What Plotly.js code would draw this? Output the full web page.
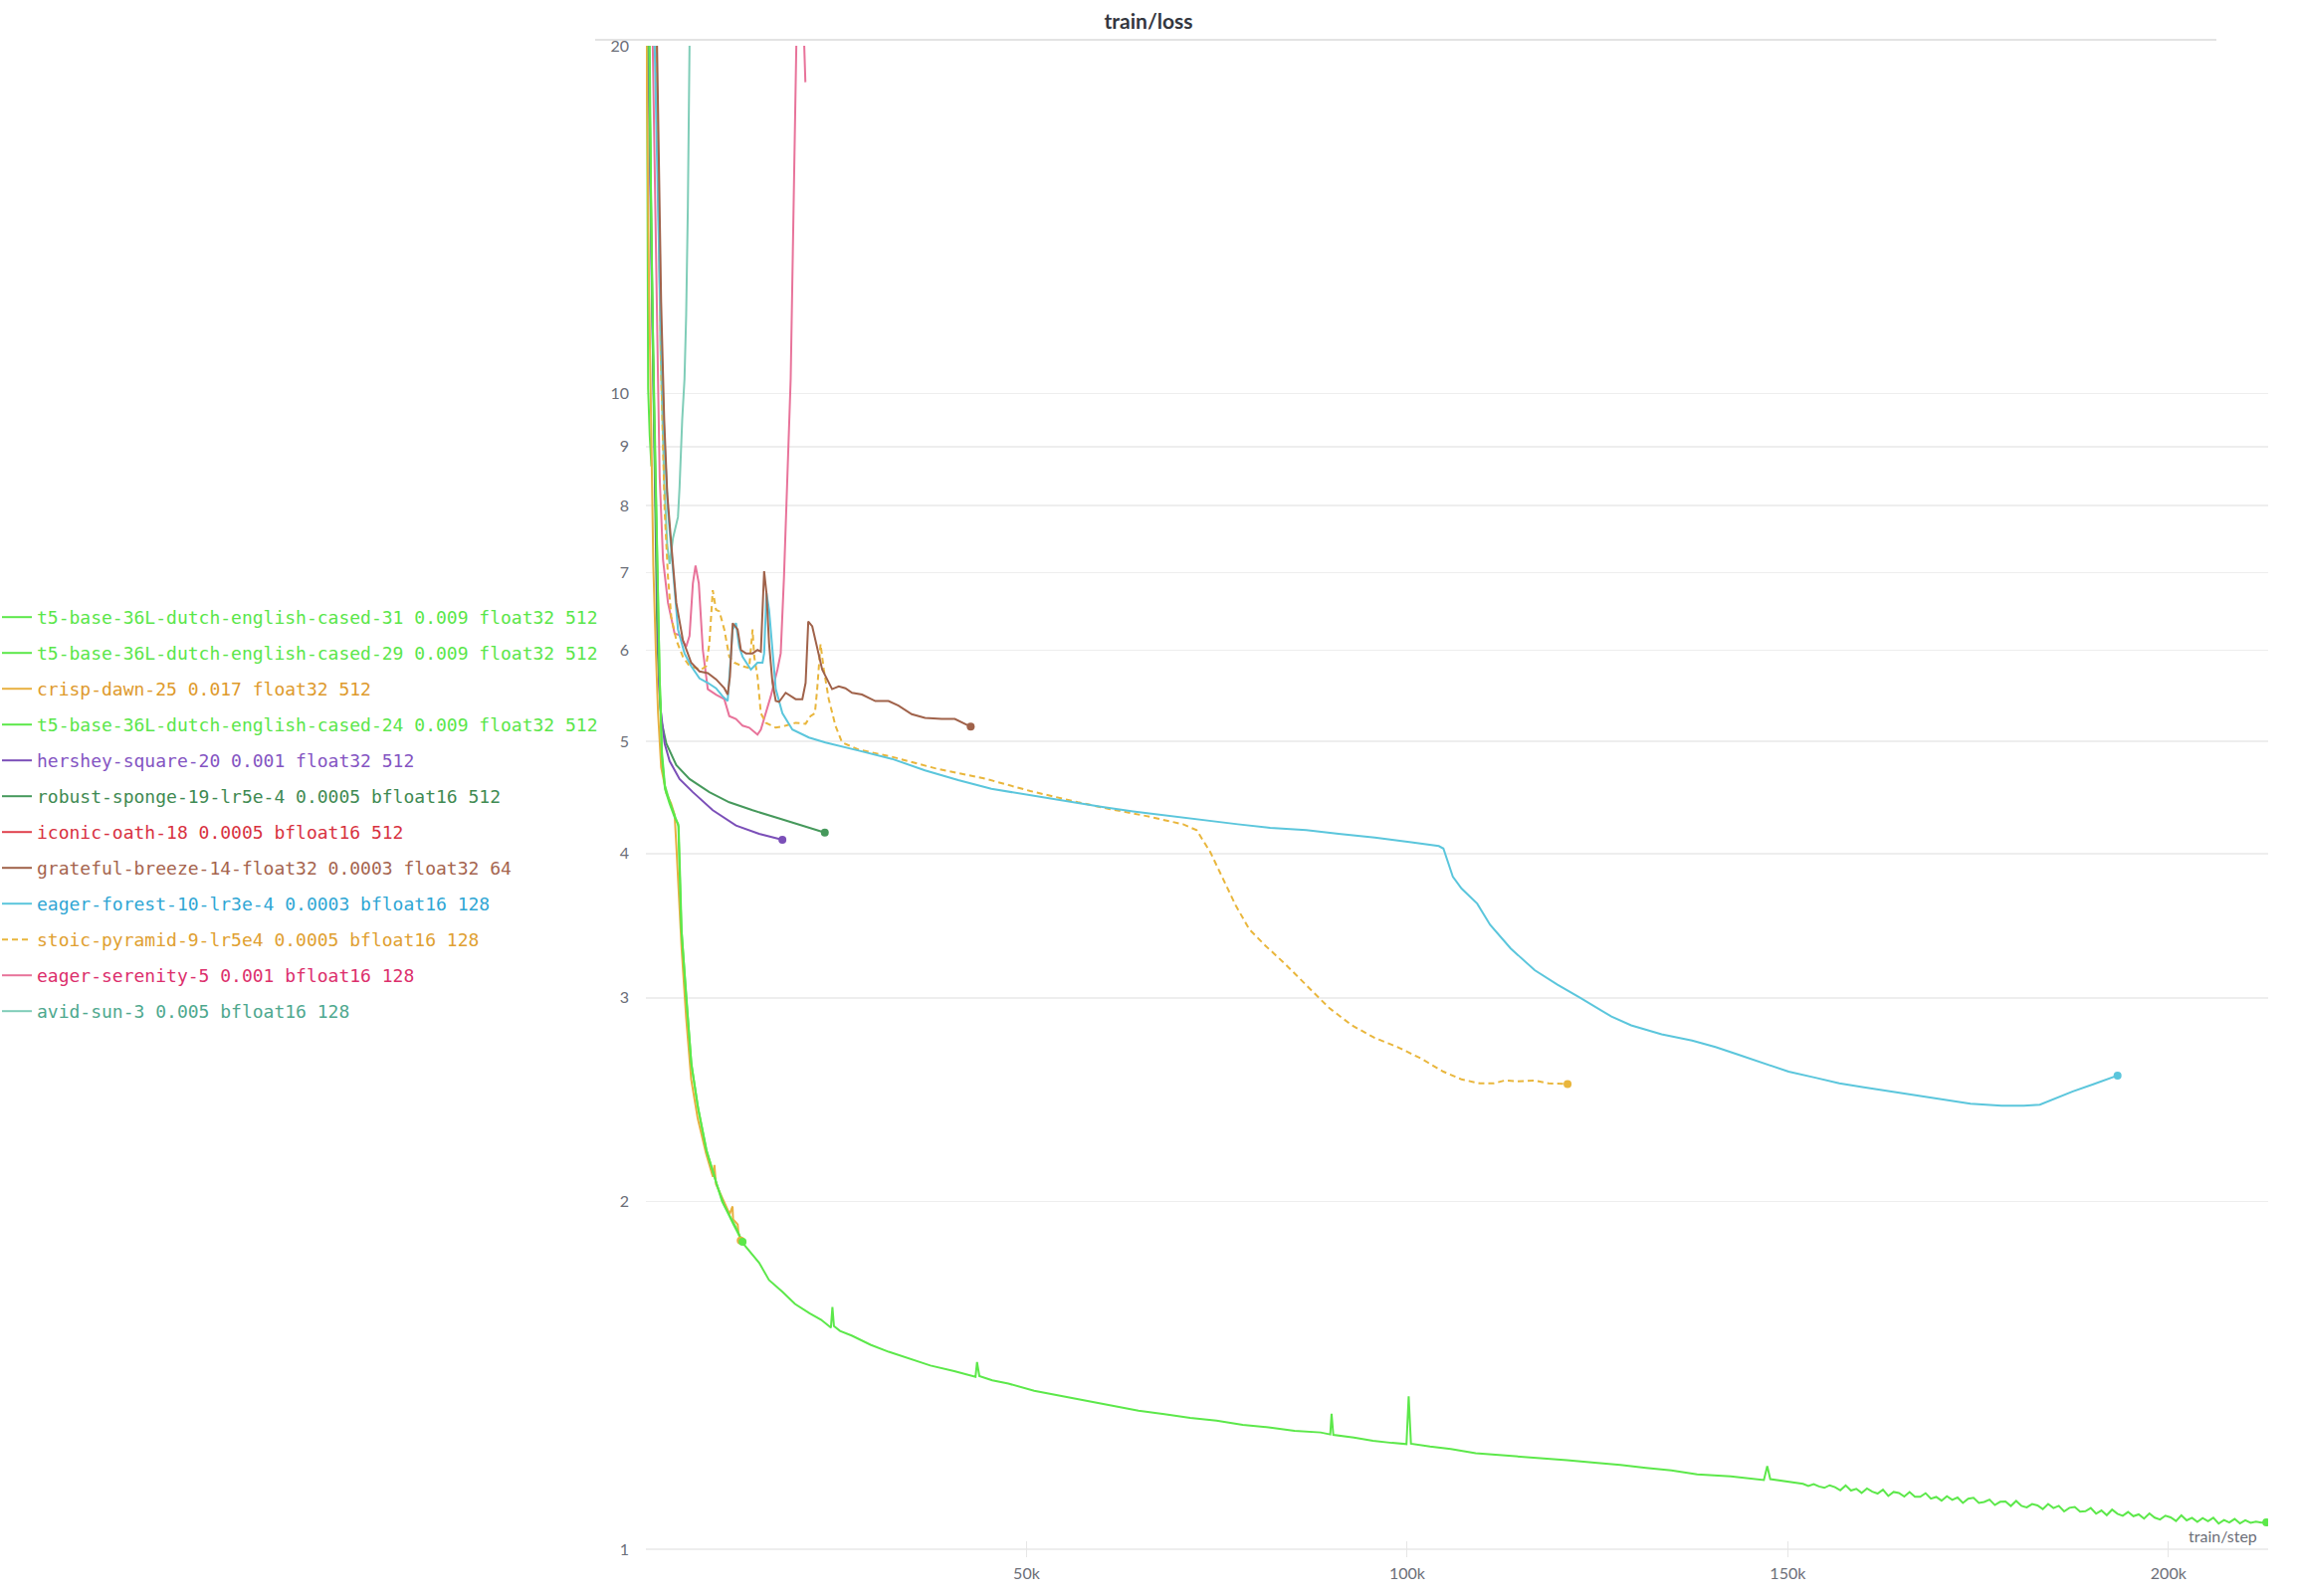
<!DOCTYPE html>
<html>
<head>
<meta charset="utf-8">
<script src="https://cdn.plot.ly/plotly-3.0.1.min.js"></script>
<style>html,body{margin:0;padding:0;background:#fff;}#chart{width:2308px;height:1604px;}</style>
</head>
<body>
<div id="chart"></div>
<script>
// ---------------- DATA ----------------
const runNames = [
  "t5-base-36L-dutch-english-cased-31 0.009 float32 512",
  "t5-base-36L-dutch-english-cased-29 0.009 float32 512",
  "crisp-dawn-25 0.017 float32 512",
  "t5-base-36L-dutch-english-cased-24 0.009 float32 512",
  "hershey-square-20 0.001 float32 512",
  "robust-sponge-19-lr5e-4 0.0005 bfloat16 512",
  "iconic-oath-18 0.0005 bfloat16 512",
  "grateful-breeze-14-float32 0.0003 float32 64",
  "eager-forest-10-lr3e-4 0.0003 bfloat16 128",
  "stoic-pyramid-9-lr5e4 0.0005 bfloat16 128",
  "eager-serenity-5 0.001 bfloat16 128",
  "avid-sun-3 0.005 bfloat16 128"
];

const xTickValues = [50000, 100000, 150000, 200000];
const xTickLabels = ["50k", "100k", "150k", "200k"];
const yTickValues = [1, 2, 3, 4, 5, 6, 7, 8, 9, 10, 20];
const yTickLabels = ["1", "2", "3", "4", "5", "6", "7", "8", "9", "10", "20"];

// t5-base-36L-dutch-english-cased-31
const step31 = [0, 700, 1100, 1500, 1800, 2100, 2500, 3100, 3770, 4250, 4400, 4650, 5300, 5950, 6800, 7900, 9200, 10000, 11800, 12740, 14870, 16170, 17930, 19590, 21500, 23000, 24300, 24500, 24700, 25500, 27100, 29500, 31890, 34500, 37370, 40500, 43300, 43500, 43800, 45500, 47610, 51000, 54440, 58000, 61290, 64700, 68120, 71500, 74960, 78400, 81790, 85200, 88630, 89900, 90070, 90300, 93000, 95500, 98000, 99910, 100200, 100500, 103000, 105730, 109000, 113240, 117890, 121000, 124620, 128000, 131370, 134700, 138090, 142500, 146860, 147300, 147700, 151570,
  152000, 152700, 153400, 154100, 154800, 155500, 156200, 156900, 157600, 158300, 159000, 159700, 160400, 161100, 161800, 162500, 163200, 163900, 164600, 165300, 166000, 166700, 167400, 168100, 168800, 169500, 170200, 170900, 171600, 172300, 173000, 173700, 174400, 175100, 175800, 176500, 177200, 177900, 178600, 179300, 180000, 180700, 181400, 182100, 182800, 183500, 184200, 184900, 185600, 186300, 187000, 187700, 188400, 189100, 189800, 190500, 191200, 191900, 192600, 193300, 194000, 194700, 195400, 196100, 196800, 197500, 198200, 198900, 199600, 200300, 201000, 201700, 202400, 203100, 203800, 204500, 205200, 205900, 206600, 207300, 208000, 208700, 209400, 210100, 210800, 211500, 212200, 212860];
const loss31 = [48, 14, 9.5, 7.0, 5.7, 4.85, 4.55, 4.42, 4.30, 4.24, 3.95, 3.45, 3.02, 2.64, 2.42, 2.22, 2.08, 2.00, 1.90, 1.84, 1.77, 1.71, 1.67, 1.63, 1.60, 1.58, 1.555, 1.62, 1.56, 1.545, 1.53, 1.503, 1.482, 1.463, 1.442, 1.426, 1.410, 1.452, 1.412, 1.400, 1.391, 1.371, 1.357, 1.344, 1.331, 1.318, 1.309, 1.299, 1.292, 1.281, 1.275, 1.266, 1.262, 1.257, 1.310, 1.256, 1.249, 1.241, 1.236, 1.233, 1.356, 1.234, 1.227, 1.221, 1.211, 1.205, 1.200, 1.194, 1.188, 1.183, 1.176, 1.170, 1.161, 1.156, 1.148, 1.180, 1.150, 1.139,
  1.1391, 1.1345, 1.1384, 1.1332, 1.1301, 1.1359, 1.1318, 1.1246, 1.1355, 1.1240, 1.1279, 1.1187, 1.1286, 1.1214, 1.1173, 1.1261, 1.1120, 1.1209, 1.1187, 1.1106, 1.1205, 1.1104, 1.1102, 1.1181, 1.1059, 1.1098, 1.1016, 1.1115, 1.1033, 1.1086, 1.0966, 1.1057, 1.1078, 1.0968, 1.0989, 1.1040, 1.0920, 1.0991, 1.0999, 1.0899, 1.1010, 1.0901, 1.0871, 1.0942, 1.0913, 1.0833, 1.0944, 1.0855, 1.0904, 1.0783, 1.0861, 1.0880, 1.0778, 1.0787, 1.0855, 1.0734, 1.0803, 1.0701, 1.0821, 1.0731, 1.0690, 1.0770, 1.0680, 1.0719, 1.0629, 1.0738, 1.0648, 1.0609, 1.0691, 1.0654, 1.0577, 1.0699, 1.0592, 1.0645, 1.0558, 1.0640, 1.0573, 1.0647, 1.0523, 1.0600, 1.0546, 1.0622, 1.0528, 1.0594, 1.0541, 1.0567, 1.0543, 1.0550];

// t5-base-36L-dutch-english-cased-29
const step29 = [0, 500, 900, 1300, 1800, 2100, 2500, 3100, 3800, 4300, 4450, 4700, 5300, 6000, 6900, 8000, 9300, 10200, 11500, 12700];
const loss29 = [50, 18, 11.5, 8.2, 5.7, 4.9, 4.58, 4.44, 4.32, 4.22, 3.90, 3.42, 3.00, 2.62, 2.40, 2.21, 2.07, 1.99, 1.91, 1.845];

// crisp-dawn-25
const step25 = [0, 80, 400, 700, 970, 1300, 1590, 2000, 2680, 3300, 3770, 3990, 4300, 4700, 5290, 5950, 6800, 7900, 8800, 9000, 9200, 10200, 11000, 11380, 11450, 12060, 12150, 12450];
const loss25 = [60, 20, 12.5, 9.5, 7.1, 6.0, 5.3, 4.75, 4.51, 4.42, 4.32, 4.07, 3.70, 3.30, 2.88, 2.55, 2.36, 2.20, 2.10, 2.15, 2.07, 2.00, 1.95, 1.98, 1.93, 1.91, 1.88, 1.85];

// t5-base-36L-dutch-english-cased-24
const step24 = [0, 200, 290, 500, 720];
const loss24 = [40, 14, 10.1, 9.2, 8.65];

// hershey-square-20
const step20 = [0, 290, 800, 1200, 1590, 1720, 1900, 2460, 3110, 4420, 6170, 8780, 11830, 14870, 17930];
const loss20 = [55, 20, 12, 8.3, 6.0, 5.6, 5.35, 4.98, 4.81, 4.64, 4.52, 4.36, 4.23, 4.16, 4.11];

// robust-sponge-19-lr5e-4
const step19 = [0, 400, 900, 1370, 1500, 1750, 2030, 2680, 3990, 5730, 8340, 10950, 14010, 17490, 20550, 23500];
const loss19 = [60, 20, 11, 6.67, 6.1, 5.6, 5.21, 4.98, 4.77, 4.64, 4.52, 4.43, 4.36, 4.29, 4.23, 4.17];

// iconic-oath-18
const step18 = [0, 150];
const loss18 = [70, 40];

// grateful-breeze-14-float32
const step14 = [0, 1400, 2000, 2400, 2800, 3330, 3990, 4860, 5950, 7040, 8130, 9210, 10300, 10740, 11040, 11400, 12050, 12480, 13140, 14010, 14660, 15100, 15320, 15530, 15840, 16180, 16630, 17060, 17490, 18360, 19670, 20550, 20980, 21330, 21850, 22500, 23160, 24460, 25330, 26210, 27080, 28390, 30130, 31870, 33170, 34920, 36660, 38840, 40580, 42670];
const loss14 = [80, 20, 12, 9.5, 8.2, 7.41, 6.59, 6.12, 5.85, 5.75, 5.73, 5.66, 5.56, 5.49, 5.69, 6.33, 6.25, 6.0, 5.96, 5.96, 6.0, 5.98, 6.5, 7.02, 6.72, 6.08, 5.62, 5.42, 5.41, 5.51, 5.44, 5.44, 5.62, 6.35, 6.29, 6.04, 5.77, 5.55, 5.58, 5.56, 5.51, 5.49, 5.42, 5.42, 5.37, 5.28, 5.24, 5.23, 5.23, 5.15];

// eager-forest-10-lr3e-4
const step10 = [0, 1150, 1800, 2400, 2900, 3590, 4210, 5070, 5950, 7040, 8130, 9210, 10090, 10740, 10950, 11400, 11830, 12260, 12700, 13790, 14660, 15320, 15530, 15840, 16180, 16630, 17060, 17930, 19240, 21420, 23590, 27950, 32310, 36660, 41020, 45380, 50740, 55000, 59740, 64000, 68750, 73000, 77760, 82000, 86750, 91000, 95750, 100550, 104160, 104760, 105300, 106000, 107150, 109200, 110900, 113600, 116750, 119750, 122750, 126840, 129430, 133430, 137430, 140500, 143430, 146800, 150110, 153500, 156770, 160000, 163440, 166800, 170110, 174000, 178100, 181000, 183110, 184780, 187450, 190110, 193320];
const loss10 = [80, 20, 12.5, 9.2, 7.92, 6.94, 6.25, 5.96, 5.81, 5.67, 5.62, 5.56, 5.47, 5.42, 5.69, 6.25, 6.33, 6.04, 5.92, 5.77, 5.85, 5.85, 5.96, 6.72, 6.5, 5.96, 5.55, 5.29, 5.12, 5.04, 4.99, 4.91, 4.83, 4.72, 4.63, 4.55, 4.49, 4.44, 4.39, 4.35, 4.31, 4.275, 4.24, 4.21, 4.19, 4.16, 4.13, 4.09, 4.06, 4.04, 3.95, 3.82, 3.73, 3.62, 3.47, 3.31, 3.17, 3.08, 3.00, 2.89, 2.84, 2.79, 2.755, 2.72, 2.68, 2.635, 2.59, 2.56, 2.53, 2.51, 2.49, 2.47, 2.45, 2.43, 2.42, 2.42, 2.425, 2.45, 2.49, 2.525, 2.57];

// stoic-pyramid-9-lr5e4
const step9 = [0, 1370, 2030, 2460, 2900, 3330, 3990, 4860, 5730, 7260, 7910, 8340, 8780, 9210, 9650, 10300, 10950, 11610, 12700, 13570, 14010, 14230, 14660, 15100, 15750, 17060, 18360, 19670, 20980, 21630, 22200, 22500, 22940, 23370, 24020, 24900, 25770, 27950, 32310, 38000, 44740, 50500, 56750, 61000, 65750, 70560, 72350, 74150, 75950, 77450, 79250, 81350, 83750, 86750, 89760, 92750, 95750, 98740, 101750, 104760, 107150, 109550, 111350, 112850, 114350, 116750, 118550, 121070];
const loss9 = [80, 20, 10.3, 7.92, 6.94, 6.41, 6.12, 5.92, 5.81, 5.77, 5.81, 6.08, 6.76, 6.5, 6.48, 6.25, 5.92, 5.85, 5.81, 5.79, 6.25, 5.92, 5.69, 5.29, 5.19, 5.14, 5.16, 5.19, 5.18, 5.26, 5.29, 5.55, 6.07, 5.77, 5.44, 5.16, 4.99, 4.92, 4.85, 4.74, 4.64, 4.53, 4.43, 4.37, 4.31, 4.24, 4.19, 4.01, 3.78, 3.61, 3.44, 3.33, 3.22, 3.08, 2.94, 2.84, 2.77, 2.72, 2.66, 2.59, 2.55, 2.53, 2.53, 2.545, 2.54, 2.545, 2.53, 2.527];

// eager-serenity-5
const step5 = [0, 900, 1590, 1810, 2250, 2900, 3770, 4420, 5290, 5730, 6170, 6520, 6950, 7480, 8130, 9210, 10300, 10950, 11830, 12700, 13570, 14660, 15100, 15750, 16400, 17280, 17710, 18140, 18580, 19020, 19760, 20300, 20600, 20950];
const loss5 = [90, 20, 10.3, 8.47, 7.18, 6.59, 6.2, 6.18, 6.04, 6.17, 6.85, 7.1, 6.85, 6.0, 5.55, 5.49, 5.44, 5.26, 5.23, 5.16, 5.14, 5.07, 5.12, 5.29, 5.47, 5.77, 5.96, 6.94, 8.47, 10.3, 20, 45, 22, 18.6];

// avid-sun-3
const step3 = [0, 1300, 1900, 2400, 2800, 3110, 3560, 4210, 4420, 4770, 5070, 5290, 5510, 5730, 6000];
const loss3 = [90, 20, 11, 8.4, 7.4, 7.12, 7.5, 7.82, 8.3, 9.5, 10.3, 11.7, 14.5, 20, 35];

const runSteps = [step31, step29, step25, step24, step20, step19, step18, step14, step10, step9, step5, step3];
const runLoss  = [loss31, loss29, loss25, loss24, loss20, loss19, loss18, loss14, loss10, loss9, loss5, loss3];

// ---------------- STYLE ----------------
const lineColors = ["#5ce84a", "#5ce84a", "#e8b040", "#5ce84a", "#7b4fb8", "#46995c", "#e0424e", "#a0624a", "#5bc6dc", "#e9b63c", "#e8739a", "#7fcdb8"];
const textColors = ["#5ae64a", "#5ae64a", "#de9a2c", "#5ae64a", "#8454c2", "#3f8a52", "#d8323f", "#a5644e", "#2fa6d4", "#e0a030", "#dc2f6c", "#4ea88e"];
const dashes = ["solid", "solid", "solid", "solid", "solid", "solid", "solid", "solid", "solid", "6px,4px", "solid", "solid"];
const endDot = [true, true, true, false, true, true, false, true, true, true, false, false];

const W = 2308, H = 1604;
const plotL = 649, plotR = 2279, plotT = 46, plotB = 1565;
const tickFont = {family: "Lato, 'Open Sans', sans-serif", size: 16, color: "#6b6e78"};

const traces = [];
for (let i = runNames.length - 1; i >= 0; i--) {
  traces.push({
    type: "scatter", mode: "lines",
    x: runSteps[i], y: runLoss[i],
    name: '<span style="color:' + textColors[i] + '">' + runNames[i] + '</span>',
    legendgroup: "g" + i, legendrank: i + 1,
    line: {color: lineColors[i], width: 2, dash: dashes[i]},
    hoverinfo: "skip"
  });
}
for (let i = runNames.length - 1; i >= 0; i--) {
  if (!endDot[i]) continue;
  const n = runSteps[i].length - 1;
  traces.push({
    type: "scatter", mode: "markers",
    x: [runSteps[i][n]], y: [runLoss[i][n]],
    showlegend: false, hoverinfo: "skip",
    marker: {color: lineColors[i], size: 8}
  });
}

const pw = plotR - plotL, ph = plotB - plotT;
const layout = {
  width: W, height: H,
  margin: {l: plotL, r: W - plotR, t: plotT, b: H - plotB, pad: 0, autoexpand: false},
  paper_bgcolor: "#ffffff", plot_bgcolor: "#ffffff",
  title: {
    text: "train/loss",
    font: {family: "Lato, 'Open Sans', sans-serif", size: 21, weight: 700, color: "#34373f"},
    xref: "container", x: 0.5, xanchor: "center",
    yref: "container", y: 1 - 22 / H, yanchor: "middle"
  },
  showlegend: true,
  legend: {
    xref: "paper", yref: "container",
    x: (-3 - plotL) / pw, y: 1 - 602 / H, xanchor: "left", yanchor: "top",
    traceorder: "grouped", tracegroupgap: 9.6,
    font: {family: "'DejaVu Sans Mono', monospace", size: 18, color: "#444"},
    bgcolor: "rgba(0,0,0,0)", borderwidth: 0
  },
  xaxis: {
    range: [0, 213100],
    tickmode: "array", tickvals: xTickValues, ticktext: xTickLabels,
    showgrid: false, zeroline: false, showline: false,
    ticks: "inside", ticklen: 16, tickwidth: 1, tickcolor: "#e6e6e6",
    ticklabelstandoff: 5,
    tickfont: tickFont
  },
  yaxis: {
    type: "log",
    range: [-0.0069, Math.log10(20)],
    tickmode: "array", tickvals: yTickValues, ticktext: yTickLabels,
    showgrid: true, gridcolor: "#eeeeee", gridwidth: 1.5,
    zeroline: false, showline: false, ticks: "",
    ticklabelstandoff: 16,
    tickfont: tickFont
  },
  shapes: [{
    type: "line", xref: "paper", yref: "paper",
    x0: (598 - plotL) / pw, x1: (2227 - plotL) / pw,
    y0: (plotB - 40) / ph, y1: (plotB - 40) / ph,
    line: {color: "#e3e3e3", width: 2}
  }],
  annotations: [{
    text: "train/step", showarrow: false,
    xref: "paper", yref: "paper",
    x: (2270 - plotL) / pw, xanchor: "right",
    y: (plotB - 1543) / ph, yanchor: "middle",
    font: {family: "Lato, 'Open Sans', sans-serif", size: 16, color: "#6b6e78"}
  }]
};

Plotly.newPlot("chart", traces, layout, {displayModeBar: false, staticPlot: true});
</script>
</body>
</html>
